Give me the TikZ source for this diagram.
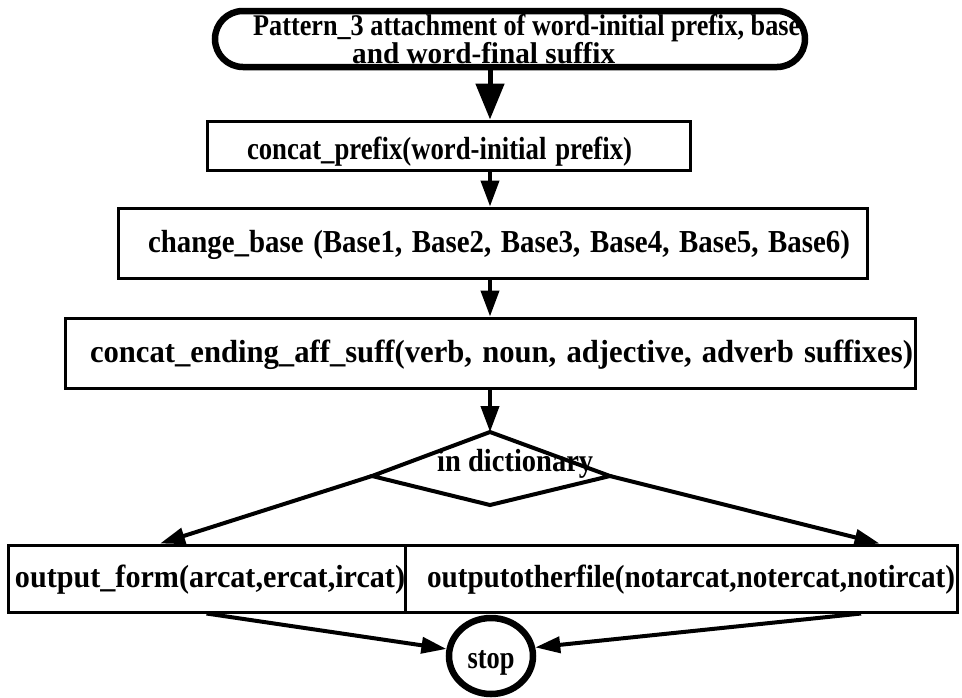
\documentclass[tikz,border=0pt]{standalone}
\usepackage{fontspec}
\setmainfont{Liberation Serif}
\usetikzlibrary{arrows.meta,shapes.geometric}
\hfuzz=2000pt \hbadness=10000
\newcommand{\fitw}[2]{\resizebox{#1}{\height}{#2}}
\begin{document}
\begin{tikzpicture}[x=1pt,y=-1pt,
  txt/.style={font=\fontsize{32}{18}\selectfont\bfseries},
  box/.style={draw, line width=3pt, inner sep=0pt, txt, align=left, text depth=0pt},
  arr/.style={line width=4pt, -{Triangle[length=26pt,width=18pt]}},
  bigarr/.style={line width=5pt, -{Triangle[length=36pt,width=28pt]}},
  darr/.style={line width=4pt, -{Triangle[length=25pt,width=16pt]}}]
\fill[white] (0,0) rectangle (962,697);
\useasboundingbox (0,0) rectangle (962,697);
\coordinate (axis) at (490,0);
% title
\node[draw, line width=6.5pt, rounded corners=28pt, minimum width=590pt, minimum height=56pt,
      inner sep=0pt] (title) at (510,39) {};
\node[font=\fontsize{30}{19}\selectfont\bfseries, anchor=north west, inner sep=0pt, align=left] (titletext) at (253,14)
  {\fitw{547pt}{Pattern\_3 attachment of word-initial prefix, base}\\
   \hspace*{99pt}\fitw{263pt}{and word-final suffix}};
% boxes
\node[box, minimum width=483pt, minimum height=49pt, text width=403pt, text height=28pt] (b2) at (448.5,145.5)
  {\fitw{385pt}{concat\_prefix(word-initial prefix)}};
\node[box, minimum width=749pt, minimum height=70pt, text width=689pt, text height=18pt] (b3) at (492.5,243)
  {\fitw{702pt}{change\_base (Base1, Base2, Base3, Base4, Base5, Base6)}};
\node[box, minimum width=850pt, minimum height=70pt, text width=800pt, text height=18pt] (b4) at (490,353)
  {\fitw{823pt}{concat\_ending\_aff\_suff(verb, noun, adjective, adverb suffixes)}};
% diamond
\coordinate (dtop) at (490,432);
\coordinate (dright) at (610,476);
\coordinate (dbot) at (490,505);
\coordinate (dleft) at (372,476);
\draw[line width=4pt, line join=miter] (dtop) -- (dright) -- (dbot) -- (dleft) -- cycle;
\node[txt, anchor=base west, inner sep=0pt] (dict) at (437,471) {\fitw{156pt}{in dictionary}};
% output boxes
\node[box, minimum width=397pt, minimum height=67pt, text width=383pt, text height=17pt] (lbox) at (206.5,578.5)
  {\fitw{390pt}{output\_form(arcat,ercat,ircat)}};
\node[box, minimum width=552pt, minimum height=67pt, text width=508pt, text height=17pt] (rbox) at (681,578.5)
  {\fitw{528pt}{outputotherfile(notarcat,notercat,notircat)}};
% stop
\node[draw, ellipse, line width=6.5pt, minimum width=84pt, minimum height=76pt, inner sep=0pt, txt,
      text height=24pt, text depth=0pt] (stop) at (491,656) {\fitw{47pt}{stop}};
% connectors
\draw[bigarr] (title.south -| axis) -- (b2.north -| axis);
\draw[arr] (b2.south -| axis) -- (b3.north -| axis);
\draw[arr] (b3.south -| axis) -- (b4.north -| axis);
\draw[arr] (b4.south -| axis) -- (dtop);
\draw[darr] (dleft) -- (lbox.143);
\draw[darr] (dright) -- (rbox.10.6);
\draw[darr] (lbox.south) -- (stop.171);
\draw[darr] (rbox.-11.7) -- (stop.11);
\end{tikzpicture}
\end{document}
